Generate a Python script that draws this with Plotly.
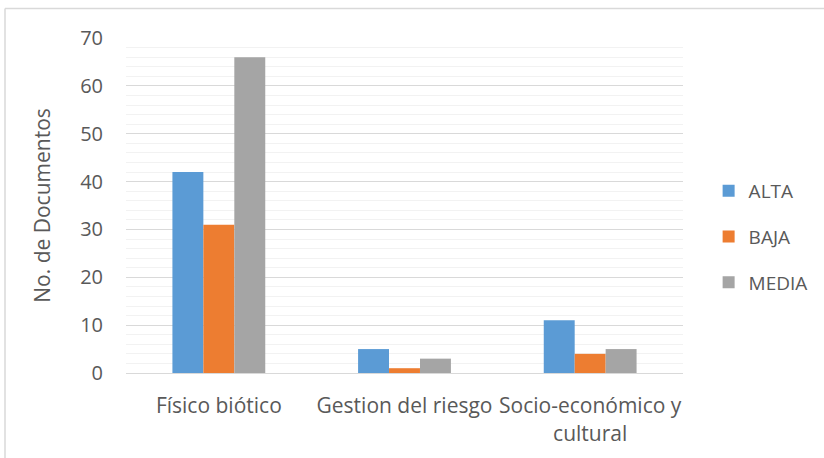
import plotly.graph_objects as go

categories = ["Físico biótico", "Gestion del riesgo", "Socio-económico y<br>cultural"]
alta = [42, 5, 11]
baja = [31, 1, 4]
media = [66, 3, 5]

series = [("ALTA", alta, "#5B9BD5"), ("BAJA", baja, "#ED7D31"), ("MEDIA", media, "#A5A5A5")]

fig = go.Figure()
for name, vals, color in series:
    fig.add_trace(go.Bar(
        x=categories, y=vals, name=name, legendgroup=name,
        marker=dict(color=color, line=dict(width=0)),
    ))

font_family = "Open Sans, Noto Sans, sans-serif"
text_color = "#595959"

fig.update_layout(
    width=824, height=458,
    margin=dict(l=126, r=141, t=38, b=85, autoexpand=False),
    paper_bgcolor="white", plot_bgcolor="white",
    barmode="group", bargap=0.5, bargroupgap=0,
    font=dict(family=font_family, color=text_color, size=20),
    showlegend=True,
    legend=dict(
        x=1.046, y=0.406, xanchor="left", yanchor="middle",
        font=dict(size=19, color=text_color),
        tracegroupgap=18, itemwidth=30,
        bgcolor="rgba(0,0,0,0)",
    ),
    xaxis=dict(
        showgrid=False, showline=True, linecolor="#D9D9D9", linewidth=1,
        ticks="", tickfont=dict(size=21, color=text_color),
        ticklabelstandoff=14,
    ),
    yaxis=dict(
        range=[0, 70], dtick=10, showgrid=True, gridcolor="#D9D9D9", gridwidth=1,
        minor=dict(dtick=2, showgrid=True, gridcolor="#F2F2F2", gridwidth=1),
        zeroline=False, showline=False, ticks="",
        tickfont=dict(size=20, color=text_color),
        ticklabelstandoff=22,
        title=dict(text="No. de Documentos", font=dict(size=21, color=text_color), standoff=23),
    ),
    shapes=[
        dict(type="line", xref="paper", yref="paper",
             x0=(5 - 126) / 557, x1=(824 - 126) / 557, y0=(373 - 8.5) / 335, y1=(373 - 8.5) / 335,
             line=dict(color="#D9D9D9", width=1.5)),
        dict(type="line", xref="paper", yref="paper",
             x0=(5 - 126) / 557, x1=(5 - 126) / 557, y0=(373 - 8.5) / 335, y1=(373 - 458) / 335,
             line=dict(color="#D9D9D9", width=1.5)),
    ],
)

fig.write_html("out.html")
